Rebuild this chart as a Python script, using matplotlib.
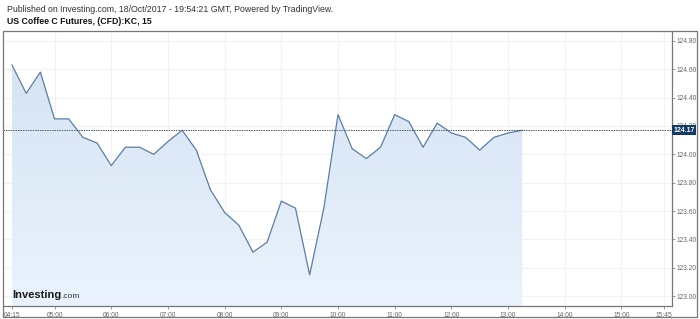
import numpy as np
import pandas as pd
import matplotlib
matplotlib.use("Agg")
import matplotlib.pyplot as plt
import matplotlib.dates as mdates
from matplotlib.colors import LinearSegmentedColormap
from matplotlib.patches import Rectangle

# data ---------------------------------------------------------------
times = pd.date_range("2017-10-18 04:15", periods=37, freq="15min")
prices = [
    124.63, 124.43, 124.58, 124.25, 124.25, 124.12, 124.08, 123.92, 124.05,
    124.05, 124.00, 124.09, 124.17, 124.03, 123.75, 123.59, 123.50, 123.31,
    123.38, 123.67, 123.62, 123.15, 123.62, 124.28, 124.04, 123.97, 124.05,
    124.28, 124.23, 124.05, 124.22, 124.15, 124.12, 124.03, 124.12, 124.15,
    124.17,
]
last_price = 124.17
y_ticks = [123.00, 123.20, 123.40, 123.60, 123.80, 124.00, 124.20, 124.40, 124.60, 124.80]
x_tick_labels = ["04:15", "05:00", "06:00", "07:00", "08:00", "09:00", "10:00",
                 "11:00", "12:00", "13:00", "14:00", "15:00", "15:45"]

title_top = "Published on Investing.com, 18/Oct/2017 - 19:54:21 GMT, Powered by TradingView."
title_sym = "US Coffee C Futures, (CFD):KC, 15"

# figure -------------------------------------------------------------
W, H = 700, 319
fig = plt.figure(figsize=(W / 100, H / 100), dpi=100)
plt.rcParams["font.family"] = ["Liberation Sans", "DejaVu Sans"]

left, right, top, bottom = 3, 672, 31, 306
ax = fig.add_axes([left / W, 1 - bottom / H, (right - left) / W, (bottom - top) / H])

x = mdates.date2num(times)
day = pd.Timestamp("2017-10-18")
tick_pos = [mdates.date2num(day + pd.Timedelta(s + ":00")) for s in x_tick_labels]

ymin, ymax = 122.93, 124.87
x0 = tick_pos[0] - (9 / 56.7) / 24
x1 = tick_pos[-1] + (8 / 56.7) / 24

# grid
for t in tick_pos[1:]:
    ax.axvline(t, color="#f2f2f2", lw=0.8, zorder=0)
for v in y_ticks:
    ax.axhline(v, color="#f2f2f2", lw=0.8, zorder=0)

# gradient area
poly = ax.fill_between(x, prices, ymin, color="none", lw=0)
cmap = LinearSegmentedColormap.from_list("fill", ["#eaf3fd", "#d6e4f3"])
grad = np.linspace(0, 1, 256).reshape(-1, 1)
img = ax.imshow(grad, cmap=cmap, aspect="auto", origin="lower",
                extent=[x[0], x[-1], ymin, max(prices)], zorder=1)
img.set_clip_path(poly.get_paths()[0], transform=ax.transData)
ax.set_xlim(x0, x1)
ax.set_ylim(ymin, ymax)

ax.plot(x, prices, color="#5a7ea6", lw=0.9, zorder=3)
ax.axhline(last_price, color="#4a5a6a", lw=0.7, ls=(0, (1.5, 1)), zorder=3)

# axes styling
ax.yaxis.tick_right()
ax.set_yticks(y_ticks)
ax.set_yticklabels([f"{v:.2f}" for v in y_ticks])
ax.set_xticks(tick_pos)
ax.set_xticklabels(x_tick_labels)
ax.tick_params(axis="both", labelsize=4.8, colors="#888888", labelcolor="#666666",
               length=2, width=0.6, pad=2)
ax.tick_params(axis="y", pad=1.5)
for side in ["left", "top"]:
    ax.spines[side].set_visible(False)
for side in ["right", "bottom"]:
    ax.spines[side].set_color("#777777")
    ax.spines[side].set_linewidth(0.9)

# last price label
ax.text(1.002, last_price, f"{last_price:.2f}", transform=ax.get_yaxis_transform(),
        ha="left", va="center", fontsize=5, color="white", fontweight="bold",
        zorder=10, clip_on=False,
        bbox=dict(boxstyle="square,pad=0.25", fc="#123a63", ec="none"))

# outer frame
fig.patches.append(Rectangle((3 / W, 1 - 317 / H), 694 / W, 286 / H,
                             transform=fig.transFigure, fill=False,
                             ec="#777777", lw=0.9))

# header texts
fig.text(7 / W, 1 - 10 / H, title_top, fontsize=6.3, color="#333333", va="center")
fig.text(7 / W, 1 - 22 / H, title_sym, fontsize=6.3, color="#111111",
         fontweight="bold", va="center")

# logo
t1 = fig.text(12 / W, 1 - 298 / H, "Investing", fontsize=8, fontweight="bold",
              color="#1a1a1a", va="baseline")
fig.canvas.draw()
bb = t1.get_window_extent()
fig.text(bb.x1 / W, 1 - 298 / H, ".com", fontsize=6, color="#333333", va="baseline")

fig.savefig("out.png", dpi=100)
